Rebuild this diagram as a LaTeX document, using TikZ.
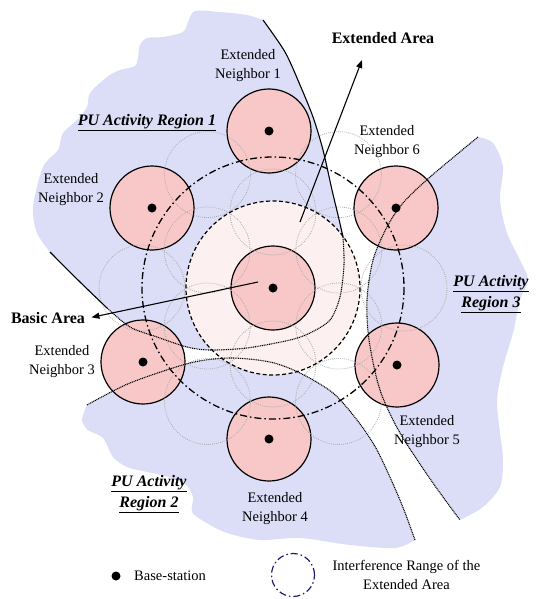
\documentclass[tikz,border=0pt]{standalone}
\usepackage{fontspec}
\setmainfont{Liberation Serif}
\usepackage{xcolor}
\usepackage{tikz}
\usetikzlibrary{arrows.meta, positioning, calc}
\definecolor{puregion}{HTML}{DCDEF8}
\definecolor{cellpink}{HTML}{F8C8C8}
\definecolor{basicpink}{HTML}{FDF0F0}
\definecolor{gridgray}{HTML}{ABABAB}
\definecolor{rangenavy}{HTML}{1C1C6E}

\tikzset{
  cell/.style={circle, draw=black, line width=1.2pt, fill=cellpink, minimum size=84pt, inner sep=0pt},
  bsdot/.style={circle, fill=black, minimum size=9pt, inner sep=0pt},
  gridcell/.style={draw=gridgray, line width=0.8pt, dash pattern=on 0.8pt off 1.2pt},
  pufront/.style={line width=1.1pt, dash pattern=on 1pt off 0.8pt},
  pusolid/.style={line width=1.1pt},
  dashdot/.style={line width=1.3pt, dash pattern=on 7pt off 3pt on 1.5pt off 3pt},
  nbrlabel/.style={align=center, font=\fontsize{14.5}{19}\selectfont},
  arealabel/.style={font=\fontsize{16}{19}\selectfont\bfseries},
  pulabel/.style={align=center, font=\fontsize{16}{21.5}\selectfont\bfseries\itshape},
  pointer/.style={-{Triangle[length=8pt,width=6pt]}, line width=1.1pt},
}

\begin{document}
\begin{tikzpicture}[x=1pt, y=-1pt]
  \useasboundingbox (0,0) rectangle (535,599);

  % PU activity regions
  \fill[puregion] plot[smooth] coordinates {(263,20) (247,15) (220,12) (195,11) (188,22) (183,32) (163,37) (147,38) (140,45) (138,57) (135,66) (120,70) (107,77) (90,93) (87,107) (77,120) (63,133) (58,150) (43,167) (33,207) (37,233) (50,252)}
    -- plot[smooth] coordinates {(50,252) (80,282) (107,308) (130,327) (157,337) (187,347) (210,350) (247,348) (290,340) (310,333) (330,320) (340,297) (344,265) (343,237) (338,215) (332,190) (323,150) (313,117) (300,85) (285,52) (263,20)} -- cycle;
  \fill[puregion] plot[smooth] coordinates {(87,405) (130,383) (190,363) (230,358) (270,362) (300,373) (333,393) (357,420) (377,450) (400,500) (415,540)}
    -- plot[smooth] coordinates {(415,540) (395,548) (350,545) (300,538) (260,540) (227,533) (205,522) (192,512) (193,497) (185,484) (165,476) (147,472) (127,467) (113,457) (103,438) (88,430) (82,420) (87,405)} -- cycle;
  \fill[puregion] plot[smooth] coordinates {(478,137) (430,177) (403,203) (387,227) (373,260) (367,300) (369,340) (380,390) (400,433) (433,483) (460,520)}
    -- plot[smooth] coordinates {(460,520) (483,507) (500,487) (503,460) (500,433) (497,400) (503,367) (513,333) (520,300) (528,280) (520,260) (507,233) (500,200) (503,167) (493,143) (478,137)} -- cycle;

  % basic area
  \coordinate (c) at (273,288);
  \fill[basicpink] (c) circle[radius=87];

  % cells
  \node[cell] (cell0) at (c) {};
  \node[cell] (nbr1) at (269,131) {};
  \node[cell] (nbr2) at (152,208) {};
  \node[cell] (nbr3) at (143,362) {};
  \node[cell] (nbr4) at (269,439) {};
  \node[cell] (nbr5) at (397,365) {};
  \node[cell] (nbr6) at (396,208) {};

  % hexagonal grid
  \foreach \a in {30,90,...,330}
    \draw[gridcell] (c) ++(\a:76) circle[radius=43];
  \foreach \a in {0,60,...,300}
    \draw[gridcell] (c) ++(\a:131) circle[radius=43];

  \draw[line width=1.2pt, dash pattern=on 4pt off 2.5pt] (c) circle[radius=87];
  \draw[dashdot] (c) circle[radius=131];

  % region boundaries
  \draw[pusolid] plot[smooth] coordinates {(263,20) (285,52) (300,85) (313,117) (323,150) (332,190) (338,215) (343,237)};
  \draw[pufront] plot[smooth] coordinates {(343,237) (344,265) (340,297) (330,320) (310,333) (290,340) (247,348) (210,350) (187,347) (157,337) (130,327) (107,308)};
  \draw[pusolid] plot[smooth] coordinates {(107,308) (80,282) (50,252)};
  \draw[pufront] plot[smooth] coordinates {(87,405) (130,383) (190,363) (230,358) (270,362) (300,373) (333,393) (357,420) (377,450) (400,500) (415,540)};
  \draw[pufront] plot[smooth] coordinates {(478,137) (430,177) (403,203) (387,227) (373,260) (367,300) (369,340) (380,390) (400,433) (433,483) (460,520)};

  % base-stations
  \node[bsdot] (bs0) at (cell0) {};
  \node[bsdot] (bs1) at (nbr1) {};
  \node[bsdot] (bs2) at (nbr2) {};
  \node[bsdot] (bs3) at (nbr3) {};
  \node[bsdot] (bs4) at (nbr4) {};
  \node[bsdot] (bs5) at (nbr5) {};
  \node[bsdot] (bs6) at (nbr6) {};

  % labels
  \node[nbrlabel] (lbl1) at (248,66) {Extended\\Neighbor 1};
  \node[nbrlabel] (lbl2) at (71,190) {Extended\\Neighbor 2};
  \node[nbrlabel] (lbl3) at (62,362) {Extended\\Neighbor 3};
  \node[nbrlabel] (lbl4) at (275,509) {Extended\\Neighbor 4};
  \node[nbrlabel] (lbl5) at (427,432) {Extended\\Neighbor 5};
  \node[nbrlabel] (lbl6) at (387,142) {Extended\\Neighbor 6};

  \node[pulabel] (pu1) at (147,123) {\underline{PU Activity Region 1}};
  \node[pulabel] (pu2) at (149,494) {\underline{PU Activity}\\\underline{Region 2}};
  \node[pulabel] (pu3) at (491,294) {\underline{PU Activity}\\\underline{Region 3}};

  \node[arealabel] (ealbl) at (383,38) {Extended Area};
  \node[arealabel] (balbl) at (48,318) {Basic Area};
  \coordinate (eatail) at (300,222);
  \coordinate (eatip) at (362,60);
  \coordinate (batail) at (258,282);
  \draw[pointer] (eatail) -- (eatip);
  \draw[pointer, shorten >=3pt] (batail) -- (balbl.east);

  % legend
  \node[bsdot] (legdot) at (116,576) {};
  \node[nbrlabel, right=10pt of legdot] (legbs) {Base-station};
  \node[circle, draw=rangenavy, dashdot, line width=1.2pt, minimum size=43pt, inner sep=0pt] (legring) at (293,575) {};
  \node[nbrlabel, right=14pt of legring] (legrange) {Interference Range of the\\Extended Area};
\end{tikzpicture}
\end{document}
